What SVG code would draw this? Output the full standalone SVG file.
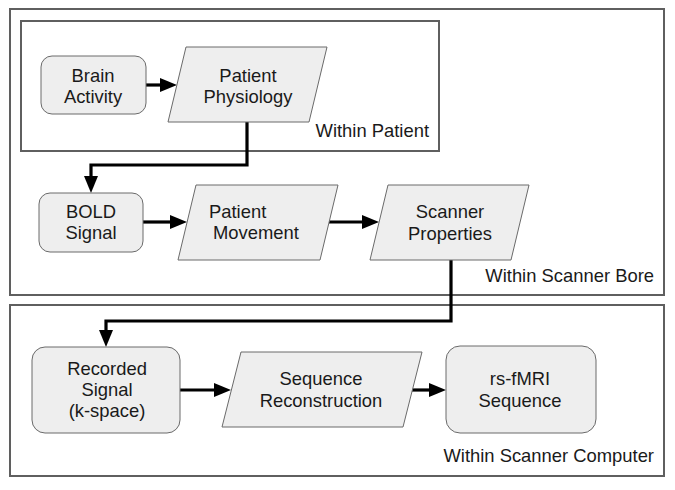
<svg xmlns="http://www.w3.org/2000/svg" width="675" height="490" viewBox="0 0 675 490">
<style>
.region{fill:none;stroke:#5f5f5f;stroke-width:2}
.node{fill:#eeeeee;stroke:#6a6a6a;stroke-width:1}
.t{font-family:"Liberation Sans",Arial,sans-serif;font-size:18.4px;fill:#1a1a1a}
.c{text-anchor:middle}
.e{text-anchor:end}
.conn{fill:none;stroke:#000;stroke-width:3.2}
</style>
<defs>
<marker id="ah" markerUnits="userSpaceOnUse" markerWidth="17" markerHeight="14" refX="0" refY="7" orient="auto">
<path d="M0,0 L17,7 L0,14 z" fill="#000"/>
</marker>
</defs>
<rect width="675" height="490" fill="#fff"/>
<g id="region-bore">
<rect class="region" x="10" y="9" width="654" height="286"/>
<text class="t e" x="654" y="282">Within Scanner Bore</text>
</g>
<g id="region-patient">
<rect class="region" x="21" y="21" width="418" height="130"/>
<text class="t e" x="429" y="137">Within Patient</text>
</g>
<g id="region-computer">
<rect class="region" x="10" y="305" width="654" height="171"/>
<text class="t e" x="654" y="462">Within Scanner Computer</text>
</g>
<g id="connectors">
<path class="conn" d="M146,85 H160" marker-end="url(#ah)"/>
<path class="conn" d="M247,122 V165 H91 V176" marker-end="url(#ah)"/>
<path class="conn" d="M143,222 H170" marker-end="url(#ah)"/>
<path class="conn" d="M329,222 H362" marker-end="url(#ah)"/>
<path class="conn" d="M451,260 V321 H106 V330" marker-end="url(#ah)"/>
<path class="conn" d="M180,390 H214" marker-end="url(#ah)"/>
<path class="conn" d="M412,390 H429" marker-end="url(#ah)"/>
</g>
<g id="brain-activity">
<rect class="node" x="41" y="56" width="105" height="58" rx="11"/>
<text class="t c" x="93" y="82">Brain</text>
<text class="t c" x="93" y="103">Activity</text>
</g>
<g id="patient-physiology">
<polygon class="node" points="186,47 327,47 309,122 168,122"/>
<text class="t c" x="248" y="82">Patient</text>
<text class="t c" x="248" y="103">Physiology</text>
</g>
<g id="bold-signal">
<rect class="node" x="39" y="193" width="104" height="59" rx="11"/>
<text class="t c" x="91" y="218">BOLD</text>
<text class="t c" x="91" y="239">Signal</text>
</g>
<g id="patient-movement">
<polygon class="node" points="196,185 338,185 320,260 178,260"/>
<text class="t" x="209" y="218">Patient</text>
<text class="t" x="213" y="239">Movement</text>
</g>
<g id="scanner-properties">
<polygon class="node" points="388,185 529,185 511,260 370,260"/>
<text class="t c" x="450" y="218">Scanner</text>
<text class="t c" x="450" y="240">Properties</text>
</g>
<g id="recorded-signal">
<rect class="node" x="32" y="347" width="148" height="86" rx="13"/>
<text class="t c" x="107" y="375">Recorded</text>
<text class="t c" x="107" y="396">Signal</text>
<text class="t c" x="107" y="417">(k-space)</text>
</g>
<g id="sequence-reconstruction">
<polygon class="node" points="241,352 422,352 403,427 222,427"/>
<text class="t c" x="321" y="385">Sequence</text>
<text class="t c" x="321" y="407">Reconstruction</text>
</g>
<g id="rs-fmri-sequence">
<rect class="node" x="446" y="346" width="150" height="87" rx="14"/>
<text class="t c" x="520" y="385">rs-fMRI</text>
<text class="t c" x="520" y="407">Sequence</text>
</g>
</svg>
